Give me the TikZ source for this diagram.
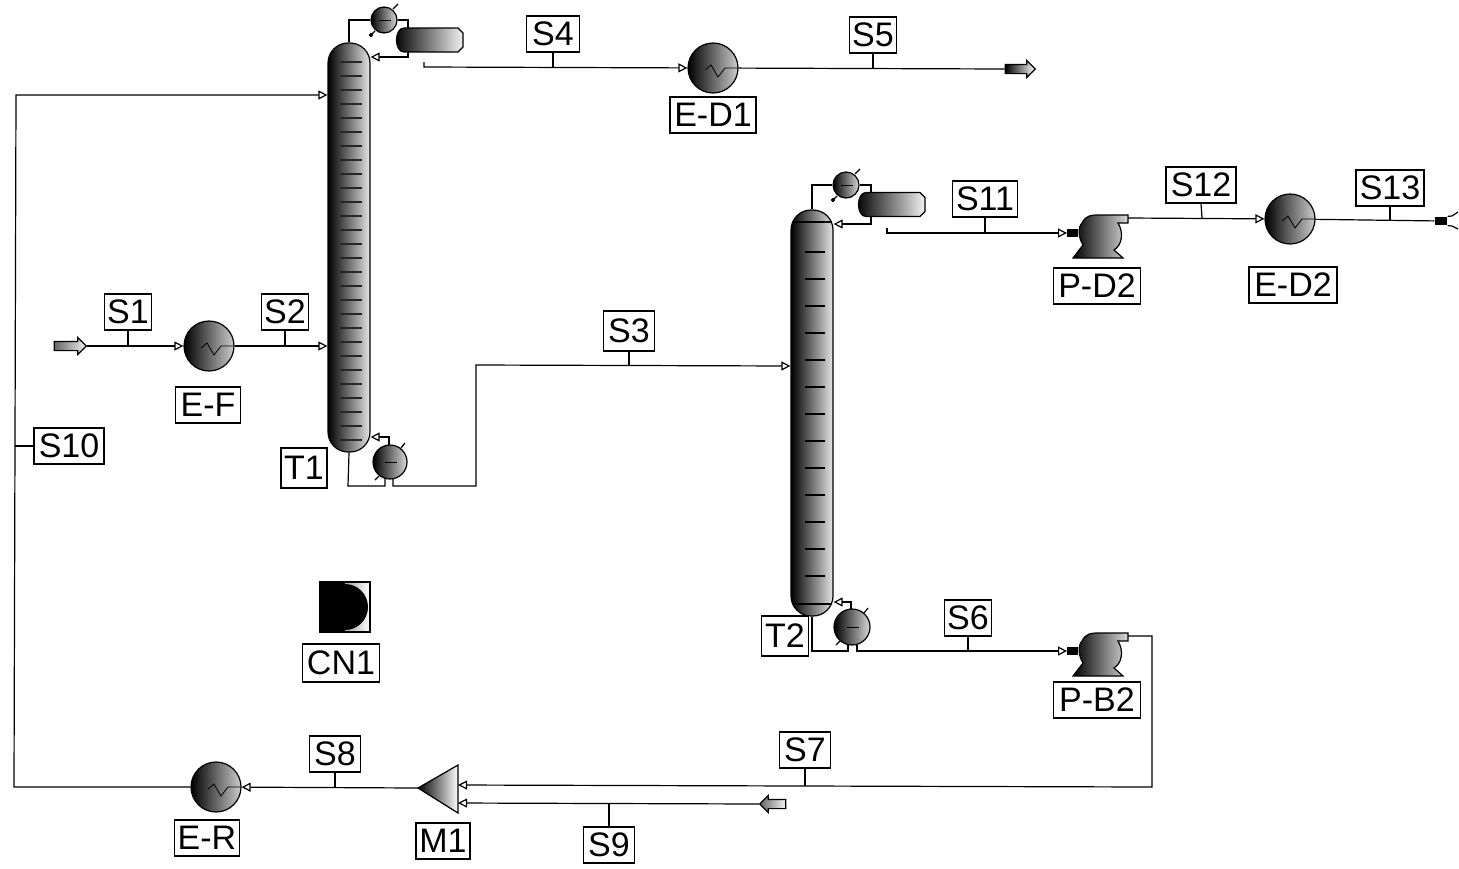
\documentclass[tikz,border=0pt]{standalone}
\usepackage{fontspec}
\setmainfont{Liberation Sans}
\usetikzlibrary{arrows.meta,shapes.arrows}
\begin{document}
\begin{tikzpicture}[
	x=0.5pt, y=-0.5pt, line width=0.6pt,
	tag/.style={ rectangle, draw, fill=white, inner sep=0pt, minimum height=18pt, font=\fontsize{17}{20}\selectfont },
	stream/.style={ -{Triangle[fill=white,length=4.5pt,width=4.5pt]} },
	hxg/.style={ circle, draw, left color=black, middle color=black!72, right color=black!20, inner sep=0pt, minimum size=25pt,
		path picture={ \draw [thin] (path picture bounding box.center) ++(26,0) to ++(-14,0) to ++(-7,9) to ++(-7,-12) to ++(-6,5); } },
	coolerg/.style={ circle, draw, left color=black, middle color=black!75, right color=black!15, inner sep=0pt,
		path picture={ \draw [thin] (path picture bounding box.center) ++(-5,0) to ++(12,0); } },
	columng/.style={ rectangle, draw, rounded corners=10pt, left color=black, middle color=black!70, right color=black!10, inner sep=0pt, minimum width=21pt },
	feedg/.style={ single arrow, draw, single arrow head extend=2pt, inner sep=2pt, left color=black!60, right color=black!5 },
	prodg/.style={ single arrow, draw, single arrow head extend=2pt, inner sep=2pt, left color=black, middle color=black!15, right color=white },
	drumicon/.pic={
		\draw [left color=black, middle color=black!65, right color=black!5] (-26,-12) to (28,-12) to (33,-7) to (33,7) to (28,12) to (-26,12) .. controls (-36,12) and (-36,-12) .. (-26,-12) -- cycle;
	},
	pumpicon/.pic={
		\fill [black] (-33,-4) rectangle (-22,4);
		\draw [left color=black, middle color=black!75, right color=black!15] (-27,25) to (-17,12) .. controls (-22,4) and (-22,-6) .. (-18,-10) .. controls (-14,-18) and (-8,-18) .. (-2,-18) to (28,-18) to (28,-10) to (18,-10) .. controls (24,0) and (22,12) .. (14,17) to (23,25) -- cycle;
		\coordinate (-in) at (-33,0);
		\coordinate (-out) at (28,-15);
	}
]

\useasboundingbox (0,0) rectangle (1459,868);

\node at (713,68) (ed1) [hxg] {};
\node at (209,346) (ef) [hxg] {};
\node at (1290,219) (ed2) [hxg] {};
\node at (216,787) (er) [hxg] {};

\node at (68,346) (fs1) [feedg,minimum height=16pt] {};
\node at (775,804) (fs9) [feedg,shape border rotate=180,minimum height=13pt] {};
\node at (1018,69) (pr5) [prodg,minimum height=15pt] {};
\node at (1441,221) (pr13) [rectangle,fill=black,inner sep=0pt,minimum width=6pt,minimum height=4pt] {};
\draw (pr13.north east) to (1452,216) to (1458,212);
\draw (pr13.south east) to (1452,226) to (1458,229);

\coordinate (m1tip) at (418,788);
\coordinate (m1top) at (458,765);
\coordinate (m1bot) at (458,813);
\coordinate (m1a) at (458,785);
\coordinate (m1b) at (458,803);
\draw [left color=black, middle color=black!70, right color=white] (m1tip) to (m1top) to (m1bot) -- cycle;

\pic (pd2) at (1100,233) {pumpicon};
\pic (pb2) at (1100,651) {pumpicon};

\node at (349,247.5) (t1) [columng,minimum height=204.5pt] {};
\foreach \y in {62,76,...,440} \draw [line width=0.8pt,black!85!white] (340,\y) to (362,\y);
\node at (812,413) (t2) [columng,minimum height=203pt] {};
\draw (792,222) to (832,222);
\draw (792,604) to (832,604);
\foreach \y in {252,279,...,600} \draw [line width=0.8pt] (805,\y) to (825,\y);

\node at (384,20) (c1) [coolerg,minimum size=13pt] {};
\node at (846,185) (c2) [coolerg,minimum size=13pt] {};
\node at (390,462) (r1) [coolerg,minimum size=17pt] {};
\node at (852,627) (r2) [coolerg,minimum size=18pt] {};

\draw (t1.north) to (t1.north |- c1) to (c1);
\draw [stream] (c1) to (408,20) to (408,57) to (t1.east |- 0,57);
\pic at (430,40) {drumicon};
\draw (c1) ++(9,-11) to ++(5,-5);
\draw (c1) ++(-9,11) to ++(-4,4);
\draw [fill=black] (c1) ++(-13,15) circle (1.5);

\draw (t2.north) to (t2.north |- c2) to (c2);
\draw [stream] (c2) to (871,185) to (871,224) to (t2.east |- 0,224);
\pic at (892,204.5) {drumicon};
\draw (c2) ++(9,-11) to ++(5,-5);
\draw (c2) ++(-9,11) to ++(-4,4);
\draw [fill=black] (c2) ++(-13,15) circle (1.5);

\draw [stream] (389,445) to (389,437) to (t1.east |- 0,437);
\draw [stream] (851,609) to (851,602) to (t2.east |- 0,602);
\draw (t1.south) to (348,486) to (385,486) to (385,478);
\draw (t2.south) to (812,651) to (848,651) to (848,644);
\draw (r1) ++(11,-14) to ++(4,-5);
\draw (r1) ++(-11,14) to ++(-4,4);
\draw (r2) ++(12,-14) to ++(4,-5);
\draw (r2) ++(-12,14) to ++(-4,4);

\draw [stream] (fs1.tip) to (ef);
\draw [stream] (ef) to (t1.west |- ef);
\draw [stream] (424,62) to (424,67) to (ed1);
\draw (ed1) to (pr5.west);
\draw [stream] (393,478) to (393,486) to (476,486) to (476,365) to (t2.west |- 0,366);
\draw [stream] (887,228) to (887,233) to (pd2-in);
\draw [stream] (pd2-out) to (ed2);
\draw (ed2) to (pr13);
\draw [stream] (857,645) to (857,651) to (pb2-in);
\draw [stream] (pb2-out) to (1152,636) to (1152,787) to (m1a);
\draw [stream] (fs9.tip) to (m1b);
\draw [stream] (m1tip) to (er);
\draw [stream] (er) to (14,787) to (16,95) to (t1.west |- 0,95);

\node at (128,312) (s1) [tag,minimum width=23.5pt] {S1};
\node at (285,312) (s2) [tag,minimum width=23.5pt] {S2};
\node at (629,331) (s3) [tag,minimum width=25.5pt,minimum height=20pt] {S3};
\node at (553,34) (s4) [tag,minimum width=26.5pt] {S4};
\node at (873,35) (s5) [tag,minimum width=23.5pt] {S5};
\node at (968,618) (s6) [tag,minimum width=23.5pt] {S6};
\node at (805,750) (s7) [tag,minimum width=25.5pt] {S7};
\node at (335,754) (s8) [tag,minimum width=25.5pt] {S8};
\node at (609,845) (s9) [tag,minimum width=25.5pt] {S9};
\node at (69,446) (s10) [tag,minimum width=35pt] {S10};
\node at (985,199) (s11) [tag,minimum width=32.5pt] {S11};
\node at (1201,185) (s12) [tag,minimum width=35pt] {S12};
\node at (1390,188) (s13) [tag,minimum width=34pt] {S13};

\draw (s1.south) to (s1.south |- ef);
\draw (s2.south) to (s2.south |- ef);
\draw (s3.south) to (629,365);
\draw (s4.south) to (s4.south |- ed1);
\draw (s5.south) to (s5.south |- ed1);
\draw (s6.south) to (968,651);
\draw (s7.south) to (805,786);
\draw (s8.south) to (335,788);
\draw (s9.north) to (609,803);
\draw (s10.west) to (15,446);
\draw (s11.south) to (985,233);
\draw (s12.south) to (1202,218);
\draw (s13.south) to (1390,220);

\node at (713,115) (ed1l) [tag,minimum width=43pt] {E-D1};
\node at (208,405) (efl) [tag,minimum width=32.5pt] {E-F};
\node at (1097,286) (pd2l) [tag,minimum width=43.5pt] {P-D2};
\node at (1293,285) (ed2l) [tag,minimum width=44pt] {E-D2};
\node at (1097,700) (pb2l) [tag,minimum width=43.5pt] {P-B2};
\node at (207,838) (erl) [tag,minimum width=32.5pt] {E-R};
\node at (443,841) (m1l) [tag,minimum width=27pt] {M1};
\node at (304,468) (t1l) [tag,minimum width=23pt,minimum height=20pt] {T1};
\node at (785,636) (t2l) [tag,minimum width=23.5pt,minimum height=20pt] {T2};

\node at (345,607) (cn1) [rectangle,draw,inner sep=0pt,minimum size=25pt,left color=black!70,right color=white] {};
\fill [black] (319,583) rectangle (345,631);
\fill [black] (345,607) circle (23);
\node at (341,663) (cn1l) [tag,minimum width=38.5pt,minimum height=19pt] {CN1};

\end{tikzpicture}
\end{document}
